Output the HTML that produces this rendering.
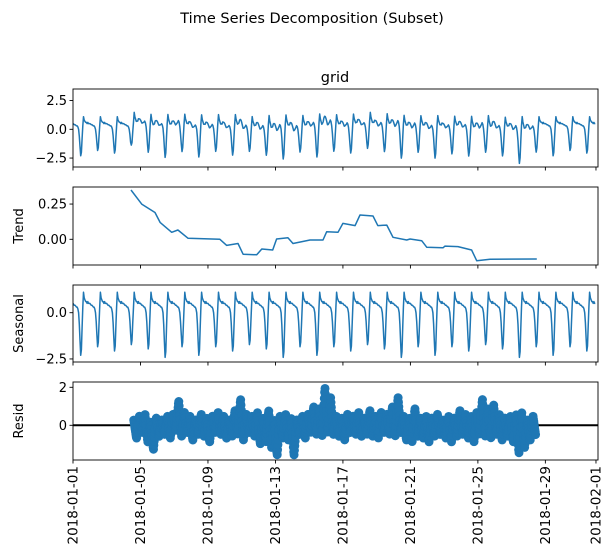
<!DOCTYPE html>
<html><head><meta charset="utf-8"><style>
body{margin:0;background:#fff}
svg{display:block;font-family:"DejaVu Sans","Liberation Sans",sans-serif}
</style></head><body>
<svg id="chart" width="608" height="560" viewBox="0 0 608 560" xmlns="http://www.w3.org/2000/svg">
<text x="312" y="23" font-size="14.5" text-anchor="middle">Time Series Decomposition (Subset)</text>
<text x="335" y="82" font-size="14.5" text-anchor="middle">grid</text>
<g id="plots"></g>
</svg>
<script>
// ---- data ----
const xTickDays = [0,4,8,12,16,20,24,28,31];
const xTickLabels = ["2018-01-01","2018-01-05","2018-01-09","2018-01-13","2018-01-17","2018-01-21","2018-01-25","2018-01-29","2018-02-01"];
const seasonalPattern = [0.5,0.45,0.4,0.4,0.35,0.3,0.3,0.2,0.0,-0.6,-1.5,-2.3,-2.0,-0.8,0.3,1.1,0.8,0.7,0.6,0.6,0.5,0.6,0.5,0.5];
const dipScale = [1.0,0.8,0.9,0.75,0.85,1.05,0.8];
const trendDays = [3.44,4.07,4.86,5.16,5.85,6.22,6.82,8.71,9.11,9.78,10.08,10.89,11.19,11.84,12.07,12.74,13.04,14.05,14.82,15.04,15.71,16.0,16.72,17.01,17.78,18.07,18.6,18.97,19.78,19.98,20.67,20.97,21.93,22.05,22.82,23.63,23.93,24.72,27.49];
const trendVals = [0.35,0.25,0.19,0.12,0.05,0.066,0.007,0,-0.043,-0.03,-0.106,-0.11,-0.069,-0.076,0.002,0.011,-0.03,-0.005,-0.005,0.054,0.05,0.113,0.097,0.172,0.165,0.097,0.101,0.014,-0.005,0.002,-0.01,-0.057,-0.06,-0.048,-0.052,-0.076,-0.152,-0.142,-0.14];
const residStartDay = 3.6;
const residStepDays = 1/6;
const residVals = [
0.3,-0.7,0.5,-0.4,0.6,-0.9, 0.2,-1.3,0.4,-0.6,0.3,-0.5, 0.5,-0.7,0.6,-0.3,1.3,-0.6,
0.7,-0.4,0.5,-0.8,0.3,-0.5, 0.6,-0.6,0.4,-0.9,0.5,-0.4, 0.7,-0.5,0.5,-0.7,0.3,-0.6,
0.8,-0.5,1.4,-0.8,0.6,-0.4, 0.5,-0.6,0.7,-1.0,0.4,-0.9, 0.8,-1.2,0.3,-1.6,0.5,-0.7,
0.6,-0.8,0.4,-1.6,0.3,-0.5, 0.5,-0.7,0.6,-0.4,1.0,-0.5, 0.9,-0.6,2.0,-0.4,1.5,-0.5,
0.5,-0.6,0.4,-0.8,0.6,-0.4, 0.5,-0.5,0.7,-0.6,0.4,-0.5, 0.8,-0.6,0.5,-0.7,0.7,-0.4,
0.6,-0.5,1.0,-0.6,1.5,-0.4, 0.5,-0.8,0.4,-0.9,0.9,-0.6, 0.4,-0.7,0.5,-0.9,0.4,-0.6,
0.6,-0.5,0.3,-0.7,0.5,-0.9, 0.4,-0.6,0.8,-0.5,0.6,-0.7, 0.5,-0.9,0.7,-0.5,1.4,-0.6,
0.9,-0.7,1.1,-0.5,0.6,-0.8, 0.4,-0.6,0.5,-0.9,0.6,-1.5, 0.7,-1.2,0.3,-0.8,0.5,-0.6];
const totalHours = 744;

// ---- layout ----
const NS="http://www.w3.org/2000/svg";
const X0=73, X1=598, DAYS=31.12;
const xs = d => X0 + d/DAYS*(X1-X0);
const panels = [
 {name:"observed", top:89, bot:167, zeroY:129.3, ppu:11.5, ticks:[-2.5,0,2.5], labels:["\u22122.5","0.0","2.5"], title:null},
 {name:"trend", top:187, bot:265, zeroY:239.3, ppu:141, ticks:[0,0.25], labels:["0.00","0.25"], title:"Trend"},
 {name:"seasonal", top:285, bot:362, zeroY:312.7, ppu:18.5, ticks:[-2.5,0], labels:["\u22122.5","0.0"], title:"Seasonal"},
 {name:"resid", top:382, bot:460, zeroY:425.3, ppu:19, ticks:[0,2], labels:["0","2"], title:"Resid"}
];
const root=document.getElementById('plots');
function mk(tag,attrs,parent){const e=document.createElementNS(NS,tag);for(const k in attrs)e.setAttribute(k,attrs[k]);(parent||root).appendChild(e);return e;}

function seasonalAt(h){const v=seasonalPattern[h%24];const d=Math.floor(h/24);return v<0?v*dipScale[d%7]:v;}
function trendAt(day){if(day<trendDays[0]||day>trendDays[trendDays.length-1])return null;
 for(let i=1;i<trendDays.length;i++){if(day<=trendDays[i]){const t=(day-trendDays[i-1])/(trendDays[i]-trendDays[i-1]);return trendVals[i-1]+t*(trendVals[i]-trendVals[i-1]);}}return null;}
function residAt(day){const f=(day-residStartDay)/residStepDays;if(f<0||f>residVals.length-1)return 0;const i=Math.floor(f),t=f-i;const b=residVals[Math.min(i+1,residVals.length-1)];return residVals[i]+t*(b-residVals[i]);}

panels.forEach((p,pi)=>{
 const ys=v=>p.zeroY-v*p.ppu;
 const clip=mk('clipPath',{id:'clip'+pi});
 mk('rect',{x:X0,y:p.top,width:X1-X0,height:p.bot-p.top},clip);
 const g=mk('g',{'clip-path':'url(#clip'+pi+')'});
 
 
 if(p.name==="resid"){
  const zl=mk('line',{x1:X0,x2:X1,y1:ys(0),y2:ys(0),stroke:'#000','stroke-width':2},g);
  
  
  const endDay=residStartDay+(residVals.length-1)*residStepDays;
  for(let h=Math.ceil(residStartDay*48);h/48<=endDay;h++){
   const day=h/48;
   const c=mk('circle',{cx:xs(day),cy:ys(residAt(day)),r:4.5,fill:'#1f77b4'},g);
   
   
  }
 } else {
  let pts=[];
  if(p.name==="trend"){
   trendDays.forEach((d,i)=>pts.push(xs(d).toFixed(1)+','+ys(trendVals[i]).toFixed(1)));
  } else {
   for(let h=0;h<totalHours;h++){
    const day=h/24; let v=seasonalAt(h);
    if(p.name==="observed"){const t=trendAt(day);v+= (t===null?0:t)+0.35*residAt(day);}
    pts.push(xs(day).toFixed(1)+','+ys(v).toFixed(1));
   }
  }
  const pl=mk('polyline',{points:pts.join(' '),fill:'none',stroke:'#1f77b4','stroke-width':1.5,'stroke-linejoin':'round'},g);
  
  
 }
 const fr=mk('rect',{x:X0,y:p.top,width:X1-X0,height:p.bot-p.top,fill:'none',stroke:'#000','stroke-width':0.9});
 
 
 p.ticks.forEach((t,i)=>{
  mk('line',{x1:X0-3.5,x2:X0,y1:ys(t),y2:ys(t),stroke:'#000','stroke-width':0.9});
  const tx=mk('text',{x:X0-6,y:ys(t)+4.5,'font-size':13,'text-anchor':'end'});
  tx.textContent=p.labels[i];
  
  
 });
 xTickDays.forEach((d,i)=>{
  mk('line',{x1:xs(d),x2:xs(d),y1:p.bot,y2:p.bot+3.5,stroke:'#000','stroke-width':0.9});
  if(p.name==="resid"){
   const x=xs(d)+4.5,y=p.bot+6;
   const tx=mk('text',{x:x,y:y,'font-size':13.5,'text-anchor':'end',transform:'rotate(-90 '+x+' '+y+')'});
   tx.textContent=xTickLabels[i];
   
   
  }
 });
 if(p.title){
  const cy=(p.top+p.bot)/2, x=23;
  const tt=mk('text',{x:x,y:cy,'font-size':13,'text-anchor':'middle',transform:'rotate(-90 '+x+' '+cy+')'});
  tt.textContent=p.title;
  
  
 }
});
</script>
</body></html>
